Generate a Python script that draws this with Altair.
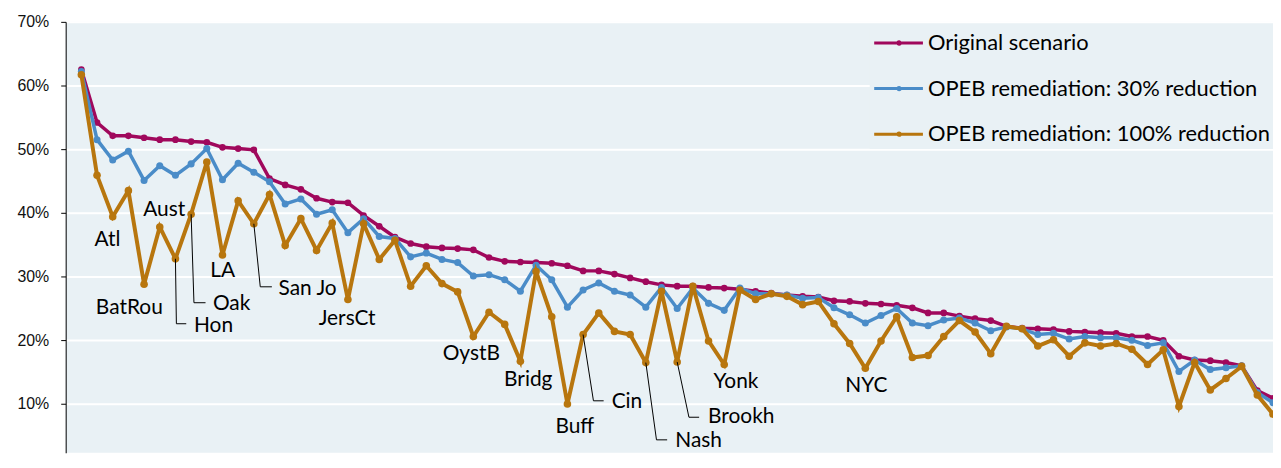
import altair as alt
import pandas as pd

series_names = ["Original scenario", "OPEB remediation: 30% reduction", "OPEB remediation: 100% reduction"]
series_colors = ["#A0085C", "#4A8CC8", "#B8760E"]

original = [62.5, 54.2, 52.1, 52.1, 51.8, 51.5, 51.5, 51.2, 51.1, 50.3, 50.1, 49.9,
            45.4, 44.4, 43.7, 42.3, 41.7, 41.6, 39.6, 37.9, 36.2, 35.2, 34.7, 34.5,
            34.4, 34.2, 33.0, 32.4, 32.3, 32.2, 32.1, 31.7, 30.9, 30.9, 30.4, 29.8,
            29.2, 28.7, 28.5, 28.5, 28.3, 28.2, 28.0, 27.7, 27.4, 27.1, 26.9, 26.8,
            26.2, 26.1, 25.8, 25.7, 25.5, 25.1, 24.3, 24.3, 23.8, 23.4, 23.1, 22.2,
            21.9, 21.8, 21.7, 21.4, 21.3, 21.2, 21.1, 20.6, 20.6, 20.0, 17.5, 16.9,
            16.8, 16.5, 16.0, 12.1, 10.9]
reduction_30 = [62.2, 51.5, 48.3, 49.7, 45.1, 47.4, 45.9, 47.7, 50.1, 45.2, 47.8, 46.4,
                44.9, 41.4, 42.2, 39.8, 40.5, 36.9, 39.1, 36.3, 36.0, 33.1, 33.7, 32.7,
                32.2, 30.1, 30.3, 29.5, 27.7, 31.8, 29.5, 25.2, 27.9, 29.0, 27.7, 27.1,
                25.2, 28.3, 25.0, 28.2, 25.8, 24.7, 28.2, 27.3, 27.3, 27.1, 26.6, 26.7,
                25.1, 24.0, 22.7, 23.9, 25.0, 22.7, 22.3, 23.2, 23.5, 22.7, 21.5, 22.1,
                21.8, 20.9, 21.1, 20.2, 20.6, 20.4, 20.4, 20.0, 19.2, 19.6, 15.1, 16.9,
                15.4, 15.7, 16.0, 11.8, 10.2]
reduction_100 = [61.7, 45.9, 39.4, 43.5, 28.8, 37.8, 32.8, 39.8, 48.0, 33.4, 41.9, 38.3,
                 42.9, 34.9, 39.1, 34.1, 38.4, 26.4, 38.3, 32.7, 35.7, 28.5, 31.7, 28.9,
                 27.6, 20.6, 24.4, 22.5, 16.7, 30.8, 23.7, 10.0, 20.9, 24.3, 21.4, 20.9,
                 16.5, 27.7, 16.6, 28.5, 19.9, 16.2, 27.9, 26.4, 27.3, 26.9, 25.6, 26.1,
                 22.6, 19.5, 15.6, 19.9, 23.7, 17.3, 17.6, 20.6, 23.1, 21.3, 17.9, 22.2,
                 21.8, 19.1, 20.1, 17.5, 19.6, 19.1, 19.5, 18.6, 16.2, 18.5, 9.6, 16.5,
                 12.2, 14.0, 15.9, 11.4, 8.4]

# plain labels (centered)
label_text = ["Atl", "Aust", "BatRou", "LA", "JersCt", "OystB", "Bridg", "Buff", "Yonk", "NYC"]
label_x = [2.66, 6.28, 4.06, 10.02, 17.95, 25.87, 29.5, 32.47, 42.75, 51.06]
label_y = [35.8, 40.4, 25.1, 30.8, 23.4, 17.8, 13.8, 6.4, 13.4, 12.8]

# callout labels (left aligned, with leader lines)
callout_text = ["Hon", "Oak", "San Jo", "Cin", "Nash", "Brookh"]
callout_x = [8.18, 9.39, 13.57, 34.82, 38.88, 40.97]
callout_y = [22.2, 25.7, 28.1, 10.3, 4.2, 7.96]
leader_city = [7, 8, 12, 33, 37, 39]
leader_elbow_x = [7.06, 8.18, 12.41, 33.66, 37.68, 39.75]
leader_elbow_y = [22.6, 25.9, 28.4, 10.5, 4.37, 7.92]
leader_end_x = [7.69, 8.92, 13.15, 34.31, 38.36, 40.4]

y_ticks = [10, 20, 30, 40, 50, 60, 70]

rows = []
for name, vals in zip(series_names, [original, reduction_30, reduction_100]):
    for i, v in enumerate(vals):
        rows.append({"x": i + 1, "y": v, "series": name})
df = pd.DataFrame(rows)

lead_rows = []
for t, c, ex, ey, endx in zip(callout_text, leader_city, leader_elbow_x, leader_elbow_y, leader_end_x):
    lead_rows.append({"label": t, "step": 0, "x": c, "y": reduction_100[c - 1]})
    lead_rows.append({"label": t, "step": 1, "x": ex, "y": ey})
    lead_rows.append({"label": t, "step": 2, "x": endx, "y": ey})
lead_df = pd.DataFrame(lead_rows)

labels_df = pd.DataFrame({"text": label_text, "x": label_x, "y": label_y})
callout_df = pd.DataFrame({"text": callout_text, "x": callout_x, "y": callout_y})

N = len(original)
xscale = alt.Scale(domain=[0, N], nice=False, zero=False)
yscale = alt.Scale(domain=[2.34, 70], nice=False, zero=False)

x_enc = alt.X("x:Q", scale=xscale, axis=None)
y_enc = alt.Y("y:Q", scale=yscale, axis=alt.Axis(
    values=y_ticks, labelExpr="datum.value + '%'", title=None,
    grid=True, gridColor="white", gridWidth=2,
    domainColor="black", domainWidth=1, tickColor="black", tickSize=5, tickWidth=1,
    labelFont="Liberation Sans", labelFontSize=16, labelColor="#111111", labelPadding=12))

sym_path = "M-1,0L3.9,0M1.38,0A0.12,0.12,0,1,0,1.62,0A0.12,0.12,0,1,0,1.38,0Z"
color_enc = alt.Color("series:N", scale=alt.Scale(domain=series_names, range=series_colors),
                      legend=alt.Legend(title=None, orient="none", legendX=808.5, legendY=6.8,
                                        direction="vertical", symbolType=sym_path, symbolSize=400,
                                        symbolStrokeWidth=3, labelFont="Lato", labelFontSize=22,
                                        labelColor="black", labelOffset=32.5, labelLimit=800,
                                        rowPadding=22.8, padding=3, fillColor="#E9F1F5"))

layers = []
for name, sw, ps in zip(series_names, [3.5, 3.5, 4], [45, 50, 58]):
    layers.append(
        alt.Chart(df).transform_filter(alt.datum.series == name)
        .mark_line(strokeWidth=sw, point=alt.OverlayMarkDef(filled=True, size=ps))
        .encode(x=x_enc, y=y_enc, color=color_enc)
    )

leaders = alt.Chart(lead_df).mark_line(color="black", strokeWidth=1).encode(
    x=alt.X("x:Q", scale=xscale, axis=None), y=alt.Y("y:Q", scale=yscale),
    detail="label:N", order="step:O")

text_c = alt.Chart(labels_df).mark_text(font="Lato", fontSize=21, align="center", baseline="middle",
                                        color="black").encode(
    x=alt.X("x:Q", scale=xscale, axis=None), y=alt.Y("y:Q", scale=yscale), text="text:N")
text_l = alt.Chart(callout_df).mark_text(font="Lato", fontSize=21, align="left", baseline="middle",
                                         color="black").encode(
    x=alt.X("x:Q", scale=xscale, axis=None), y=alt.Y("y:Q", scale=yscale), text="text:N")

chart = alt.layer(*layers, leaders, text_c, text_l).properties(
    width=1214, height=433.3,
    autosize=alt.AutoSizeParams(type="none"),
    padding={"left": 58, "top": 12.7, "right": 0, "bottom": 0},
    background="white",
).configure_view(fill="#E9F1F5", stroke=None)

chart.save("out.html", embed_options={"renderer": "svg", "actions": False})
